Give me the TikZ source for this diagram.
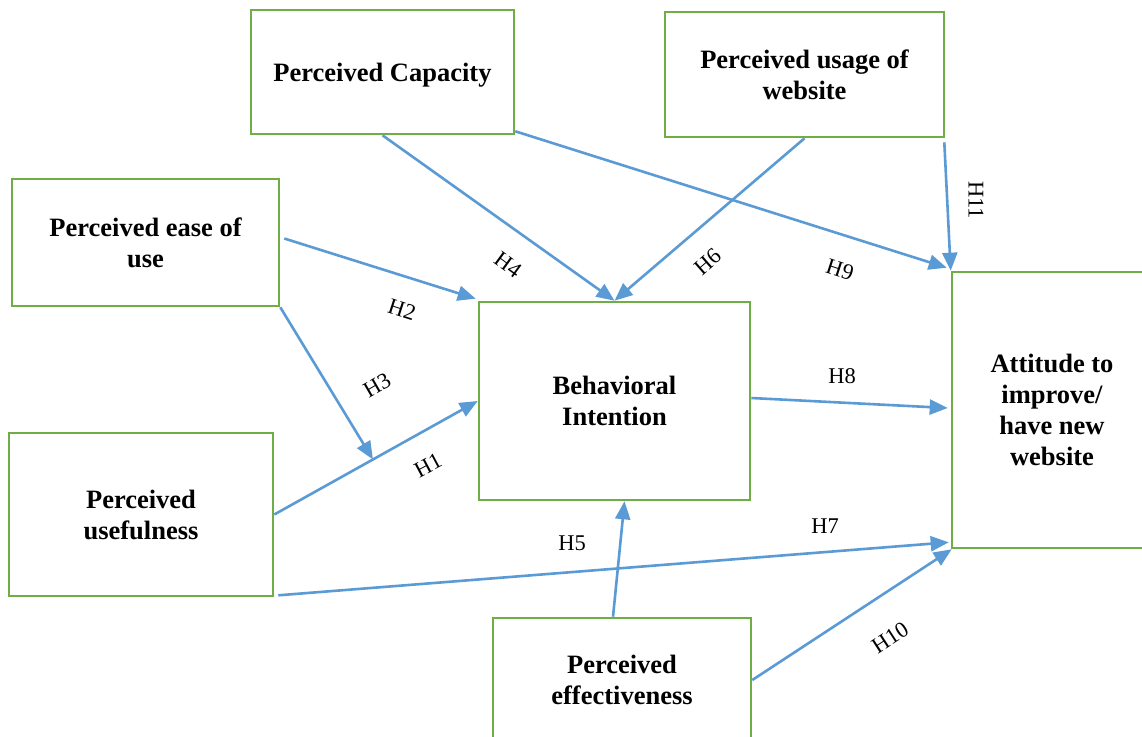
\documentclass[tikz,border=0pt]{standalone}
\usepackage{fontspec}
\setmainfont{Liberation Serif}
\usetikzlibrary{arrows.meta,calc}
\definecolor{boxgreen}{HTML}{70AD47}
\definecolor{arrowblue}{HTML}{5B9BD5}
\begin{document}
\begin{tikzpicture}[x=1pt,y=-1pt,
  box/.style={draw=boxgreen,line width=2.6pt,rectangle,align=center,font=\fontsize{26.5}{31}\selectfont\bfseries,inner sep=0pt,text depth=0pt},
  conn/.style={draw=arrowblue,line width=2.6pt,-{Triangle[length=18pt,width=15pt]}},
  hlabel/.style={font=\fontsize{22.5}{26}\selectfont,inner sep=0pt}]
\useasboundingbox (0,0) rectangle (1142,736);
\clip (0,0) rectangle (1142,736);
\fill[white] (0,0) rectangle (1142,736);
% boxes
\node[box,minimum width=263pt,minimum height=124pt] (cap) at (382.5,72) {Perceived Capacity};
\node[box,minimum width=279pt,minimum height=125pt] (usage) at (804.5,74.5) {Perceived usage of\\website};
\node[box,minimum width=267pt,minimum height=127pt] (ease) at (145.5,242.5) {Perceived ease of\\use};
\node[box,minimum width=271pt,minimum height=198pt] (bi) at (614.5,401) {Behavioral\\Intention};
\node[box,minimum width=200pt,minimum height=276pt] (att) at (1052,410) {Attitude to\\improve/\\have new\\website};
\node[box,minimum width=264pt,minimum height=163pt] (use) at (141,514.5) {Perceived\\usefulness};
\node[box,minimum width=258pt,minimum height=124pt] (eff) at (622,680) {Perceived\\effectiveness};
% connectors
\draw[conn] (cap.south) -- (bi.north);
\draw[conn] (usage.south) -- (bi.north);
\draw[conn] ($(cap.south east)+(0,-4)$) -- ($(att.north west)+(-4,-3)$);
\draw[conn] ($(usage.south east)+(-1,4)$) -- (att.north west);
\draw[conn] ($(ease.east)+(4,-4)$) -- ($(bi.north west)+(-2,-2)$);
\draw[conn] (use.east) -- (bi.west);
\coordinate (h3end) at ($(use.east)!0.485!(bi.west)$);
\draw[conn] (ease.south east) -- (h3end);
\draw[conn] ($(bi.east)+(0,-3)$) -- ($(att.west)+(-3,-2)$);
\draw[conn] ($(use.south east)+(4,-2)$) -- ($(att.south west)+(-2,-7)$);
\draw[conn] ($(eff.north)+(-9,0)$) -- ($(bi.south)+(10,0)$);
\draw[conn] (eff.east) -- ($(att.south west)+(1,0)$);
% labels
\node[hlabel,rotate=-36] (l4) at (508,265) {H4};
\node[hlabel,rotate=41] (l6) at (708,262) {H6};
\node[hlabel,rotate=-18] (l9) at (840,270) {H9};
\node[hlabel,rotate=-90] (l11) at (976,200) {H11};
\node[hlabel,rotate=-18] (l2) at (402,310) {H2};
\node[hlabel,rotate=30] (l3) at (377,385) {H3};
\node[hlabel,rotate=28] (l1) at (428,465) {H1};
\node[hlabel] (l8) at (842,376) {H8};
\node[hlabel] (l7) at (825,526) {H7};
\node[hlabel] (l5) at (572,543) {H5};
\node[hlabel,rotate=33] (l10) at (890,638) {H10};
\end{tikzpicture}
\end{document}
